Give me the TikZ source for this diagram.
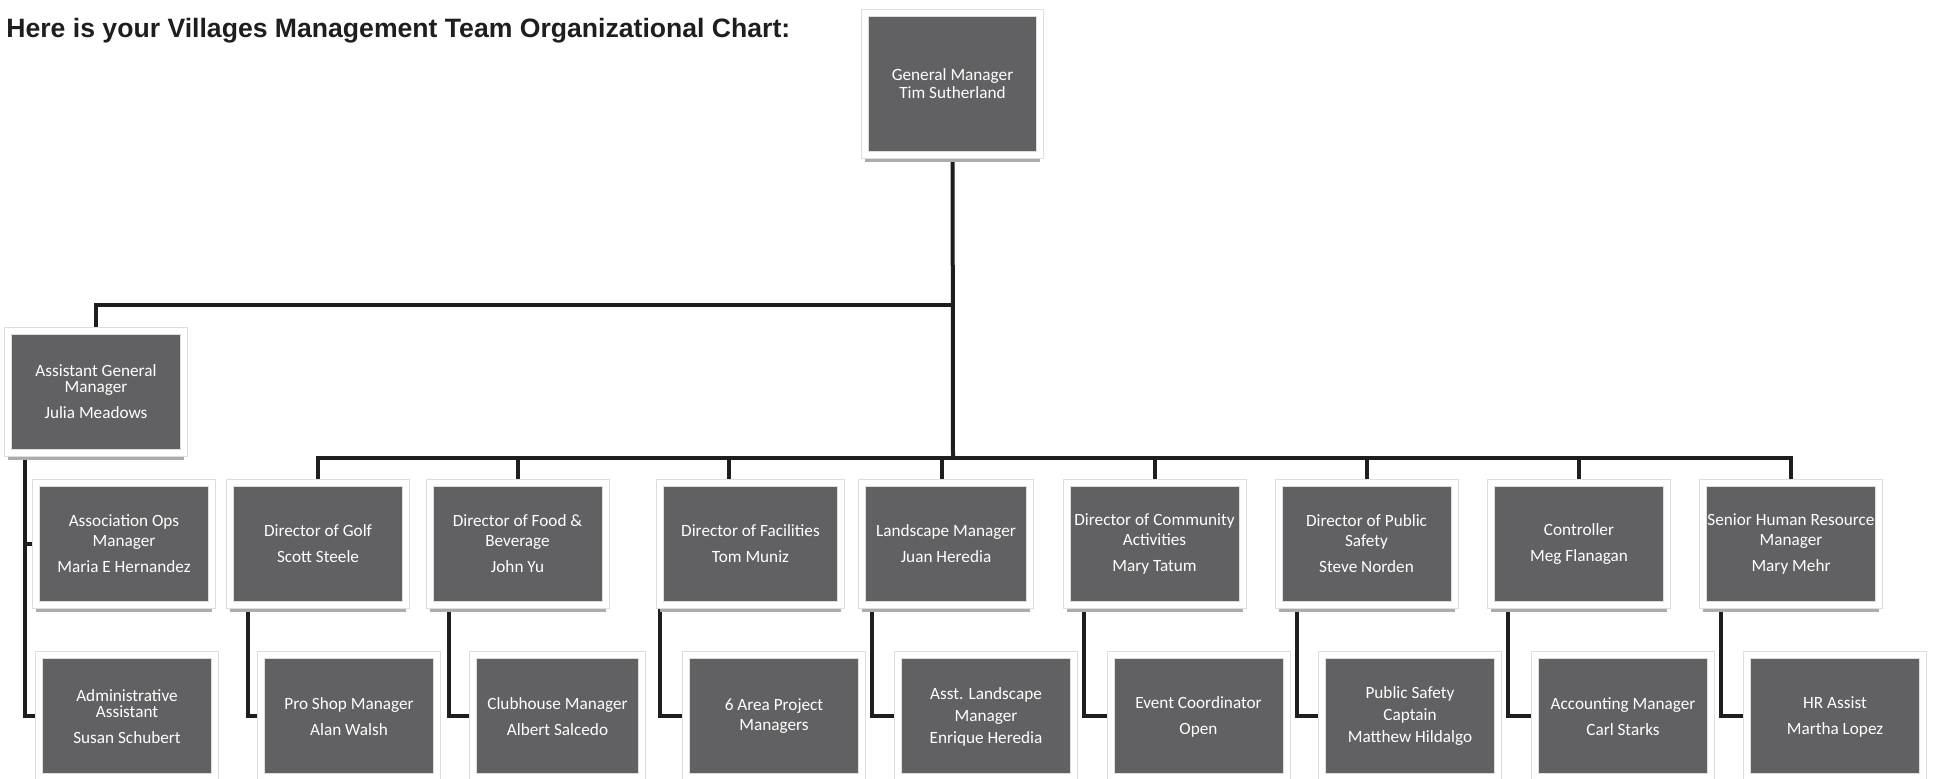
\documentclass[tikz,border=0pt]{standalone}
\usepackage{fontspec}
\newfontfamily\cardfont{Carlito}
\newfontfamily\headfont{Liberation Sans}
\usetikzlibrary{shadows,backgrounds}
\definecolor{cardgray}{RGB}{97,97,99}
\definecolor{framegray}{RGB}{222,222,222}
\definecolor{shadowgray}{RGB}{172,172,172}
\definecolor{linegray}{RGB}{30,30,30}

\begin{document}
\begin{tikzpicture}[x=0.5pt,y=-0.5pt,
    card/.style={draw=framegray,line width=0.5pt,double=white,double distance=3pt,
      fill=cardgray,text=white,align=center,inner sep=1pt,
      font=\cardfont\fontsize{8.6}{10}\selectfont,
      minimum width=88pt,minimum height=61pt,
      drop shadow={shadow xshift=0pt,shadow yshift=-3.5pt,fill=shadowgray,opacity=1}},
    link/.style={draw=linegray,line width=2pt}]
    \useasboundingbox (0,0) rectangle (1940,779);

    \node[anchor=base west,inner sep=0pt,text=linegray,font=\headfont\bfseries\fontsize{13.3}{16}\selectfont] (title) at (6,38) {Here is your Villages Management Team Organizational Chart:};

    \node[card,minimum width=87.5pt,minimum height=71pt] (gm) at (952.5,84) {General Manager\\[-1pt]Tim Sutherland};
    \node[card] (agm) at (96,392) {Assistant General\\[-2pt]Manager\\[3pt]Julia Meadows};

    \node[card] (assoc) at (124,544) {Association Ops\\Manager\\[3pt]Maria E Hernandez};
    \node[card] (golf) at (318,544) {Director of Golf\\[3pt]Scott Steele};
    \node[card] (fnb) at (517.5,544) {Director of Food \&\\Beverage\\[3pt]John Yu};
    \node[card,minimum width=90.5pt] (fac) at (750.5,544) {Director of Facilities\\[3pt]Tom Muniz};
    \node[card,minimum width=84pt] (land) at (946,544) {Landscape Manager\\[3pt]Juan Heredia};
    \node[card] (comm) at (1154.5,544) {Director of Community\\Activities\\[3pt]Mary Tatum};
    \node[card] (safety) at (1366.5,544) {Director of Public\\Safety\\[3pt]Steve Norden};
    \node[card] (ctrl) at (1579,544) {Controller\\[3pt]Meg Flanagan};
    \node[card] (hrsen) at (1791,544) {Senior Human Resource\\Manager\\[3pt]Mary Mehr};

    \node[card] (admin) at (127,716.5) {Administrative\\[-2pt]Assistant\\[3pt]Susan Schubert};
    \node[card] (proshop) at (349,716.5) {Pro Shop Manager\\[3pt]Alan Walsh};
    \node[card,minimum width=84.5pt] (club) at (557.5,716.5) {Clubhouse Manager\\[3pt]Albert Salcedo};
    \node[card] (area) at (774,716.5) {6 Area Project\\Managers};
    \node[card] (asstland) at (986,716.5) {Asst. Landscape\\[1pt]Manager\\[1pt]Enrique Heredia};
    \node[card] (event) at (1198.5,716.5) {Event Coordinator\\[3pt]Open};
    \node[card] (captain) at (1410,716.5) {Public Safety\\[1pt]Captain\\[1pt]Matthew Hildalgo};
    \node[card] (acct) at (1623,716.5) {Accounting Manager\\[3pt]Carl Starks};
    \node[card] (hrasst) at (1835,716.5) {HR Assist\\[3pt]Martha Lopez};

    \coordinate (split) at (953,305);
    \coordinate (hub) at (953,458);

    \begin{scope}[on background layer]
    \draw[link] (gm) -- (hub);
    \draw[link] (split) -| (agm);
    \draw[link] (golf) |- (hub) -| (hrsen);
    \draw[link] (fnb) -- (fnb |- hub);
    \draw[link] (729,0 |- fac.north) -- (729,0 |- hub);
    \draw[link] (942,0 |- land.north) -- (942,0 |- hub);
    \draw[link] (comm) -- (comm |- hub);
    \draw[link] (safety) -- (safety |- hub);
    \draw[link] (ctrl) -- (ctrl |- hub);

    \draw[link] (25,0 |- agm.south) |- (assoc);
    \draw[link] (25,0 |- agm.south) |- (admin);
    \draw[link] (248,0 |- golf.south) |- (proshop);
    \draw[link] (449,0 |- fnb.south) |- (club);
    \draw[link] (660,0 |- fac.south) |- (area);
    \draw[link] (872,0 |- land.south) |- (asstland);
    \draw[link] (1084,0 |- comm.south) |- (event);
    \draw[link] (1297,0 |- safety.south) |- (captain);
    \draw[link] (1508,0 |- ctrl.south) |- (acct);
    \draw[link] (1721,0 |- hrsen.south) |- (hrasst);
    \end{scope}
\end{tikzpicture}
\end{document}
